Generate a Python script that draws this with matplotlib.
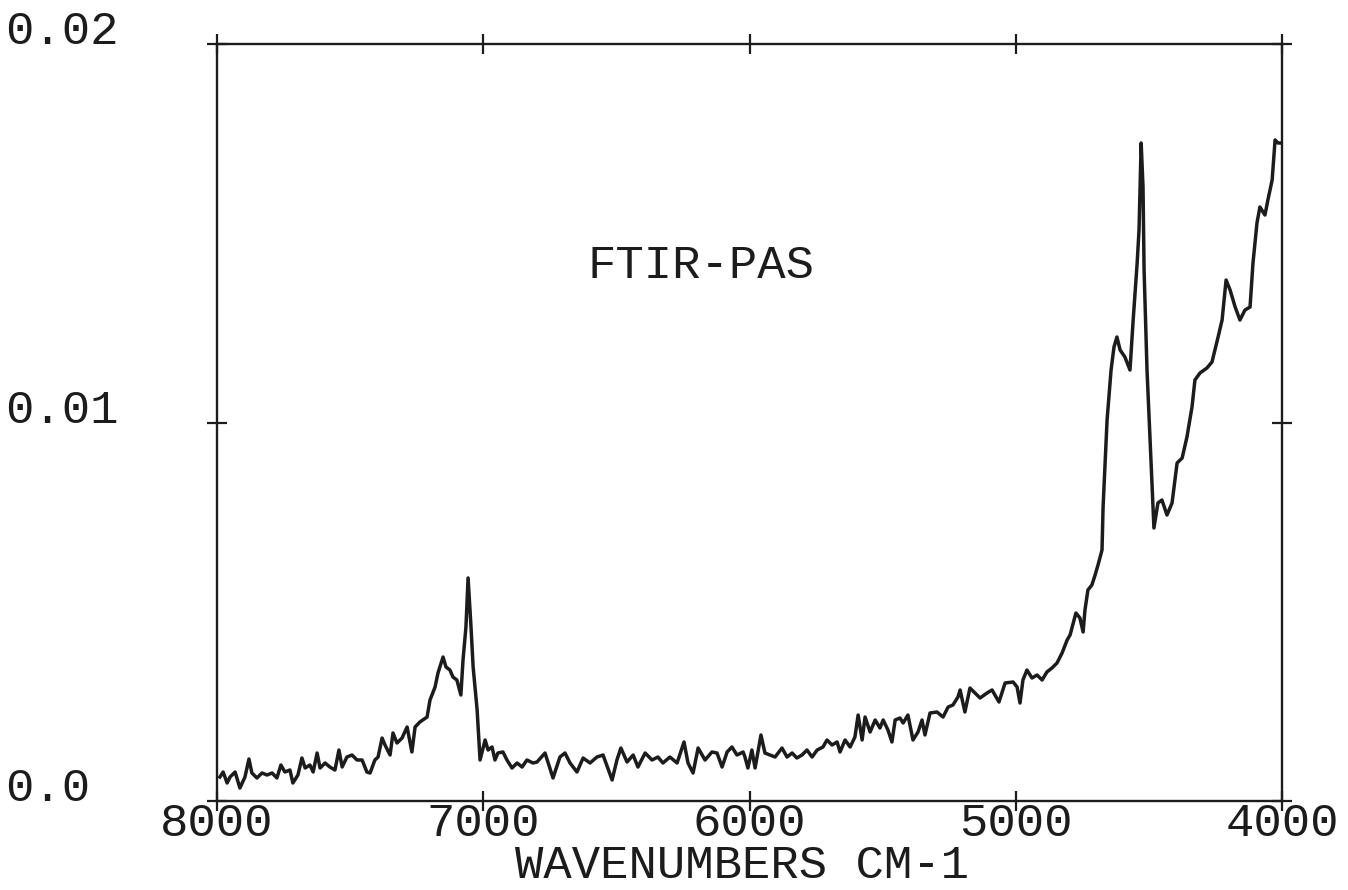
import matplotlib
matplotlib.use("Agg")
import matplotlib.pyplot as plt
import matplotlib.transforms as mtransforms

# photoacoustic spectrum, wavenumber (cm-1) vs signal (units of 1e-3)
wavenumber = [
    7989, 7977, 7962, 7951, 7932, 7914, 7895, 7880, 7869, 7850, 7831, 7812,
    7793, 7775, 7760, 7745, 7726, 7715, 7696, 7681, 7669, 7651, 7639, 7624,
    7613, 7594, 7576, 7557, 7542, 7530, 7512, 7493, 7474, 7455, 7437, 7425,
    7407, 7395, 7380, 7369, 7350, 7339, 7324, 7305, 7286, 7268, 7256, 7238,
    7211, 7200, 7181, 7170, 7151, 7140, 7125, 7114, 7099, 7084, 7076, 7065,
    7057, 7046, 7038, 7023, 7012, 6993, 6982, 6967, 6956, 6945, 6926, 6911,
    6892, 6873, 6854, 6836, 6813,
    6798, 6768, 6738, 6712, 6693, 6674, 6648, 6625, 6599, 6573, 6550, 6516,
    6498, 6483, 6460, 6437, 6419, 6392, 6366, 6344, 6325, 6299, 6272, 6246,
    6231, 6212, 6193, 6167, 6141, 6122, 6103, 6084, 6066, 6047, 6024,
    6017, 6006, 5991, 5979, 5957, 5942, 5923, 5904, 5878, 5859, 5840, 5822,
    5803, 5784, 5765, 5746, 5724, 5709, 5690, 5671, 5660, 5641, 5622, 5604,
    5592, 5577, 5566, 5547, 5528, 5510, 5498, 5480, 5465, 5453, 5435, 5423,
    5405, 5386, 5367, 5352, 5341, 5322, 5296, 5273, 5254, 5236, 5217,
    5209, 5191, 5172, 5153, 5134, 5108, 5089, 5063, 5040, 5010, 4995, 4984,
    4973, 4958, 4939, 4920, 4901, 4883, 4864, 4845, 4826, 4807, 4796, 4774,
    4759, 4747, 4740, 4729, 4714, 4702, 4691, 4676,
    4672, 4657, 4642, 4631, 4620, 4608, 4590, 4571, 4559, 4544, 4537, 4529,
    4522, 4518, 4507, 4496, 4481, 4466, 4451, 4432, 4413, 4394, 4375, 4357,
    4338, 4327, 4308, 4282, 4263, 4252, 4240, 4225, 4210, 4195, 4176, 4158,
    4139, 4120, 4109, 4094, 4083, 4064, 4053, 4037, 4026, 4015, 4000,
]
signal = [
    0.634, 0.766, 0.476, 0.634, 0.766, 0.343, 0.634, 1.110, 0.740, 0.608, 0.740, 0.687,
    0.740, 0.608, 0.951, 0.766, 0.819, 0.476, 0.687, 1.136, 0.872, 0.951, 0.766, 1.268,
    0.872, 1.004, 0.898, 0.819, 1.347, 0.898, 1.162, 1.215, 1.083, 1.083, 0.766, 0.740,
    1.083, 1.162, 1.664, 1.480, 1.215, 1.797, 1.532, 1.664, 1.955, 1.295, 1.955, 2.087,
    2.219, 2.668, 3.012, 3.382, 3.804, 3.540, 3.461, 3.276, 3.197, 2.800, 3.725, 4.597,
    5.892, 4.597, 3.540, 2.404, 1.083, 1.612, 1.347, 1.427, 1.083, 1.268, 1.295, 1.083,
    0.872, 1.004, 0.898, 1.083, 1.004,
    1.030, 1.268, 0.608, 1.162, 1.268, 1.004, 0.766, 1.136, 1.004, 1.162, 1.215, 0.555,
    1.083, 1.400, 1.030, 1.215, 0.898, 1.268, 1.083, 1.162, 1.004, 1.162, 1.004, 1.559,
    1.004, 0.740, 1.400, 1.083, 1.295, 1.268, 0.898, 1.295, 1.427, 1.215, 1.295,
    1.162, 0.872, 1.347, 0.872, 1.744, 1.268, 1.215, 1.162, 1.400, 1.162, 1.268, 1.136,
    1.215, 1.347, 1.162, 1.347, 1.427, 1.612, 1.480, 1.559, 1.295, 1.612, 1.427, 1.691,
    2.272, 1.612, 2.219, 1.823, 2.140, 1.929, 2.140, 1.876, 1.559, 2.140, 2.193, 2.061,
    2.272, 1.612, 1.823, 2.140, 1.744, 2.325, 2.351, 2.219, 2.483, 2.536, 2.748,
    2.933, 2.351, 2.985, 2.853, 2.721, 2.853, 2.933, 2.616, 3.118, 3.144, 3.012, 2.589,
    3.197, 3.461, 3.250, 3.329, 3.197, 3.408, 3.514, 3.646, 3.910, 4.254, 4.386, 4.967,
    4.835, 4.465, 5.046, 5.575, 5.707, 5.971, 6.235, 6.631,
    7.767, 10.066, 11.387, 11.995, 12.259, 11.915, 11.730, 11.387, 12.708, 14.214, 15.086, 17.384,
    16.222, 14.029, 11.387, 9.617, 7.213, 7.873, 7.952, 7.556, 7.873, 8.930, 9.062, 9.617,
    10.409, 11.123, 11.308, 11.440, 11.598, 11.915, 12.259, 12.708, 13.765, 13.501, 13.051, 12.708,
    12.972, 13.051, 14.214, 15.271, 15.693, 15.482, 15.878, 16.407, 17.464, 17.384, 17.384,
]

xticks = [8000, 7000, 6000, 5000, 4000]
xtick_labels = ["8000", "7000", "6000", "5000", "4000"]
yticks = [0.0, 0.01, 0.02]
ytick_labels = ["0.0", "0.01", "0.02"]

ink = "#1c1c1c"
font = "Liberation Mono"
fsize = 34

fig = plt.figure(figsize=(13.48, 8.9), dpi=100)
fig.patch.set_facecolor("white")
ax = fig.add_axes([217 / 1348, 89 / 890, 1065 / 1348, 757 / 890])

ax.plot(wavenumber, [v * 1e-3 for v in signal], color=ink, lw=2.5)

ax.set_xlim(8000, 4000)
ax.set_ylim(0, 0.02)
for s in ax.spines.values():
    s.set_linewidth(1.7)
    s.set_color(ink)

ax.set_xticks(xticks)
ax.set_xticklabels(xtick_labels, fontfamily=font, fontsize=fsize, color=ink)
ax.set_yticks(yticks)
ax.set_yticklabels([])
ax.tick_params(axis="both", direction="inout", length=14, width=1.6, color=ink,
               top=True, right=True)
ax.tick_params(axis="x", pad=-6)

# y labels sit left-aligned at the figure edge, baseline on the tick
trans = mtransforms.blended_transform_factory(fig.transFigure, ax.transData)
for val, lab in zip(yticks, ytick_labels):
    ax.text(0.004, val, lab, transform=trans, ha="left", va="baseline",
            fontfamily=font, fontsize=fsize, color=ink)

ax.set_xlabel("WAVENUMBERS CM-1", fontfamily=font, fontsize=fsize, color=ink,
              va="baseline")
ax.xaxis.set_label_coords(0.493, -0.1017)
ax.text(6182, 0.01413, "FTIR-PAS", ha="center", va="center",
        fontfamily=font, fontsize=fsize, color=ink)

fig.savefig("out.png", dpi=100, facecolor="white")
